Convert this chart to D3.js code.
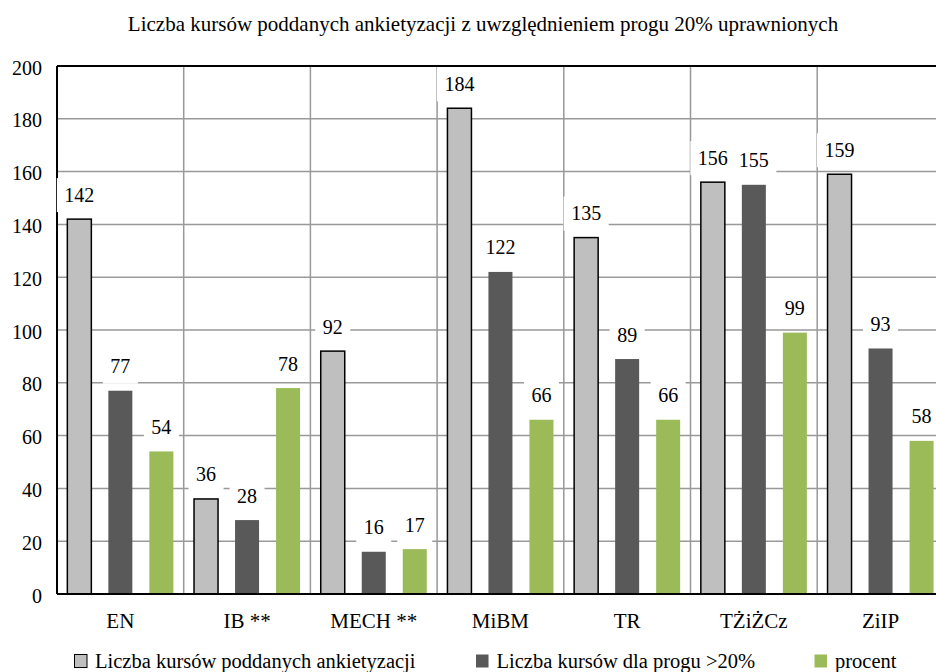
<!DOCTYPE html>
<html><head><meta charset="utf-8">
<script src="https://cdn.jsdelivr.net/npm/d3@7"></script>
<style>
html,body{margin:0;padding:0;background:#fff;}
svg{display:block;}
svg text{font-family:"Liberation Serif","Times New Roman",serif !important;}
</style></head>
<body>
<svg id="chart" width="936" height="672"></svg>
<script>
const title = "Liczba kursów poddanych ankietyzacji z uwzględnieniem progu 20% uprawnionych";
const categories = ["EN", "IB **", "MECH **", "MiBM", "TR", "TŻiŻCz", "ZiIP"];
const seriesNames = ["Liczba kursów poddanych ankietyzacji", "Liczba kursów dla progu >20%", "procent"];
const seriesAll = [142, 36, 92, 184, 135, 156, 159];
const seriesAbove = [77, 28, 16, 122, 89, 155, 93];
const seriesPercent = [54, 78, 17, 66, 66, 99, 58];
const yTicks = [0, 20, 40, 60, 80, 100, 120, 140, 160, 180, 200];

const colors = ["#bfbfbf", "#595959", "#9bbb59"];
const strokes = ["#000", "none", "none"];
const seriesValues = [seriesAll, seriesAbove, seriesPercent];

const svg = d3.select("#chart");
const plotLeft = 57, plotTop = 66, plotBottom = 594, bandW = 126.7;
const plotRight = plotLeft + bandW * categories.length;

const x = d3.scaleBand().domain(categories).range([plotLeft, plotRight]).paddingInner(0).paddingOuter(0);
const xs = d3.scaleBand().domain(d3.range(3)).range([0, x.bandwidth()]).paddingInner(17/41).paddingOuter(0.252);
const y = d3.scaleLinear().domain([0, 200]).range([plotBottom, plotTop]);

// title
svg.append("text").attr("x", 483).attr("y", 31).attr("text-anchor", "middle")
  .style("font-size", "21px").attr("fill", "#000").text(title);

// horizontal gridlines
svg.append("g").selectAll("line").data(yTicks.filter(t => t > 0 && t < 200)).join("line")
  .attr("x1", plotLeft).attr("x2", plotRight).attr("y1", d => y(d)).attr("y2", d => y(d))
  .attr("stroke", "#999").attr("stroke-width", 1.5);
// vertical gridlines at band boundaries
svg.append("g").selectAll("line").data(categories.slice(1)).join("line")
  .attr("x1", d => x(d)).attr("x2", d => x(d)).attr("y1", plotTop).attr("y2", plotBottom)
  .attr("stroke", "#999").attr("stroke-width", 1.5);

// top border and left axis
svg.append("line").attr("x1", plotLeft).attr("x2", plotRight).attr("y1", y(200)).attr("y2", y(200))
  .attr("stroke", "#000").attr("stroke-width", 2);
svg.append("line").attr("x1", plotLeft).attr("x2", plotLeft).attr("y1", plotTop).attr("y2", plotBottom)
  .attr("stroke", "#000").attr("stroke-width", 2);

// bars
const groups = svg.append("g").selectAll("g").data(categories).join("g")
  .attr("transform", d => `translate(${x(d)},0)`);
groups.selectAll("rect").data((c, i) => seriesValues.map((s, k) => ({k, v: s[i]}))).join("rect")
  .attr("x", d => xs(d.k)).attr("width", xs.bandwidth())
  .attr("y", d => y(d.v)).attr("height", d => y(0) - y(d.v))
  .attr("fill", d => colors[d.k])
  .attr("stroke", d => strokes[d.k]).attr("stroke-width", 1.5);

// bottom axis line
svg.append("line").attr("x1", plotLeft).attr("x2", plotRight).attr("y1", plotBottom).attr("y2", plotBottom)
  .attr("stroke", "#000").attr("stroke-width", 2);

// data labels with white boxes
const labels = groups.selectAll("g.lab").data((c, i) => seriesValues.map((s, k) => ({k, v: s[i]}))).join("g")
  .attr("class", "lab")
  .attr("transform", d => `translate(${xs(d.k) + xs.bandwidth() / 2},${y(d.v)})`);
labels.each(function(d) {
  const g = d3.select(this);
  const t = g.append("text").attr("x", 0).attr("y", -17.5).attr("text-anchor", "middle")
    .style("font-size", "20px").attr("fill", "#000").text(d.v);
  const w = t.node().getComputedTextLength() + 15;
  g.insert("rect", "text").attr("x", -w / 2).attr("y", -41).attr("width", w).attr("height", 34)
    .attr("fill", "#fff");
});

// y axis tick labels
const yAxis = d3.axisLeft(y).tickValues(yTicks).tickSize(0).tickPadding(15);
const ya = svg.append("g").attr("transform", `translate(${plotLeft},0)`).call(yAxis);
ya.select(".domain").remove();
ya.selectAll("text").style("font-size", "20px").attr("fill", "#000").attr("dy", "0.4em");

// x axis category labels
const xAxis = d3.axisBottom(x).tickSize(0).tickPadding(0);
const xa = svg.append("g").attr("transform", `translate(0,${plotBottom})`).call(xAxis);
xa.select(".domain").remove();
xa.selectAll("text").style("font-size", "21px").attr("fill", "#000").attr("dy", null).attr("y", 33.5);

// legend
const legendX = [74, 475.5, 814];
const leg = svg.append("g").selectAll("g").data(seriesNames).join("g")
  .attr("transform", (d, i) => `translate(${legendX[i]},654)`);
leg.append("rect").attr("x", 0.5).attr("y", 0.5).attr("width", 12.5).attr("height", 13)
  .attr("fill", (d, i) => colors[i]).attr("stroke", (d, i) => i === 0 ? "#000" : "none").attr("stroke-width", 1);
leg.append("text").attr("x", 21).attr("y", 13.5).style("font-size", "20.5px").attr("fill", "#000").text(d => d);
</script>
</body></html>
